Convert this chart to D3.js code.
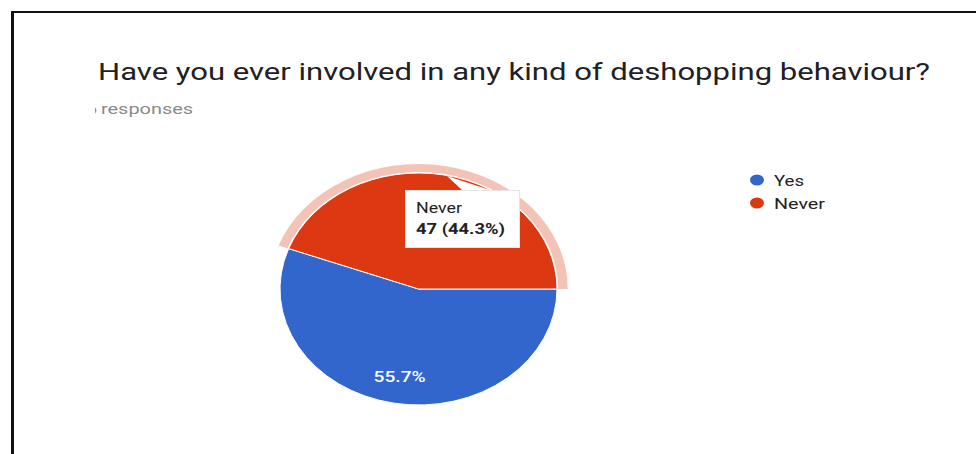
<!DOCTYPE html>
<html>
<head>
<meta charset="utf-8">
<script src="https://cdn.jsdelivr.net/npm/d3@7/dist/d3.min.js"></script>
<style>
  html, body { margin: 0; padding: 0; background: #fff; }
  svg { display: block; }
  text { font-family: Roboto, "Noto Sans", Arial, sans-serif; }
</style>
</head>
<body>
<svg id="chart" width="976" height="454"></svg>
<script>
// Survey answers
const categories = ["Yes", "Never"];
const counts = [59, 47];
const colors = ["#3366cc", "#dc3912"];
const title = "Have you ever involved in any kind of deshopping behaviour?";
const totalLabel = "106";
const highlighted = 1; // slice with tooltip

const total = d3.sum(counts);
const pct = v => (v / total * 100).toFixed(1) + "%";

const svg = d3.select("#chart");

// frame lines
svg.append("line").attr("x1", 11).attr("x2", 976).attr("y1", 12).attr("y2", 12)
  .attr("stroke", "#111").attr("stroke-width", 2);
svg.append("line").attr("x1", 12.5).attr("x2", 12.5).attr("y1", 11).attr("y2", 454)
  .attr("stroke", "#111").attr("stroke-width", 3);

// title
svg.append("text").attr("x", 98).attr("y", 80)
  .attr("font-size", 23).attr("fill", "#202124")
  .attr("textLength", 832).attr("lengthAdjust", "spacingAndGlyphs")
  .text(title);

// response count (left part clipped)
svg.append("clipPath").attr("id", "countClip")
  .append("rect").attr("x", 95).attr("y", 95).attr("width", 200).attr("height", 30);
const sub = svg.append("g").attr("clip-path", "url(#countClip)");
sub.append("text").attr("x", 97).attr("y", 114).attr("text-anchor", "end")
  .attr("font-size", 15).attr("fill", "#8a8a8a").text(totalLabel);
sub.append("text").attr("x", 101).attr("y", 114)
  .attr("font-size", 15).attr("fill", "#8a8a8a")
  .attr("textLength", 92).attr("lengthAdjust", "spacingAndGlyphs")
  .text("responses");

// pie
const cx = 418.5, cy = 289, R = 116, sx = 138.5 / 116;
const pie = d3.pie().sort(null).startAngle(Math.PI / 2).endAngle(Math.PI / 2 + 2 * Math.PI);
const arcs = pie(counts);
const arc = d3.arc().innerRadius(0).outerRadius(R);
const ringArc = d3.arc().innerRadius(R + 1).outerRadius(R + 9);
const labelArc = d3.arc().innerRadius(R * 0.77).outerRadius(R * 0.77);

const g = svg.append("g").attr("transform", `translate(${cx},${cy}) scale(${sx},1)`);
g.selectAll("path.slice").data(arcs).join("path")
  .attr("class", "slice")
  .attr("d", arc)
  .attr("fill", (d, i) => colors[i])
  .attr("stroke", "#fff").attr("stroke-width", 1)
  .attr("vector-effect", "non-scaling-stroke");

// highlight ring
g.append("path").attr("d", ringArc(arcs[highlighted]))
  .attr("fill", "#dc3912").attr("fill-opacity", 0.3);

// slice labels (only for the non-highlighted slice)
arcs.forEach((d, i) => {
  if (i === highlighted) return;
  const c = labelArc.centroid(d);
  svg.append("text")
    .attr("x", cx + c[0] * sx).attr("y", cy + c[1] + 5)
    .attr("text-anchor", "middle").attr("font-size", 15).attr("fill", "#fff")
    .attr("font-weight", 500)
    .attr("textLength", 52).attr("lengthAdjust", "spacingAndGlyphs")
    .text(pct(counts[i]));
});

// tooltip
const tip = svg.append("g");
tip.append("polygon").attr("points", "447,176 463,191 493,191").attr("fill", "#fff");
tip.append("rect").attr("x", 405.5).attr("y", 190.5).attr("width", 114).attr("height", 57)
  .attr("fill", "#fff").attr("stroke", "#e6e6e6").attr("stroke-width", 1);
tip.append("text").attr("x", 416).attr("y", 213).attr("font-size", 14).attr("fill", "#222")
  .attr("textLength", 46).attr("lengthAdjust", "spacingAndGlyphs")
  .text(categories[highlighted]);
tip.append("text").attr("x", 416).attr("y", 234).attr("font-size", 14)
  .attr("font-weight", "bold").attr("fill", "#222")
  .attr("textLength", 89).attr("lengthAdjust", "spacingAndGlyphs")
  .text(`${counts[highlighted]} (${pct(counts[highlighted])})`);

// legend
const legendW = [30, 51];
const lg = svg.append("g");
categories.forEach((c, i) => {
  const y = 180 + i * 23;
  lg.append("ellipse").attr("cx", 757).attr("cy", y).attr("rx", 7).attr("ry", 5.5)
    .attr("fill", colors[i]);
  lg.append("text").attr("x", 774).attr("y", y + 6).attr("font-size", 15).attr("fill", "#222")
    .attr("textLength", legendW[i]).attr("lengthAdjust", "spacingAndGlyphs")
    .text(c);
});
</script>
</body>
</html>
